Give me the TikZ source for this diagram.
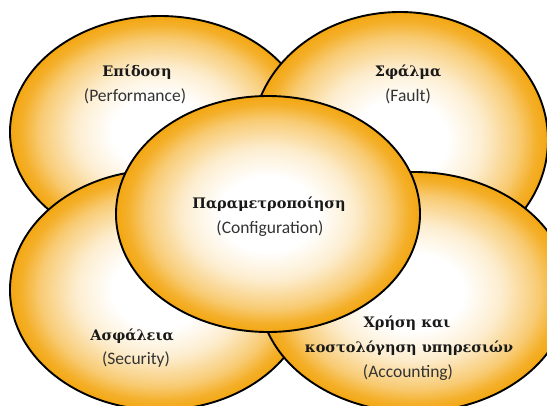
\documentclass[tikz,border=0pt]{standalone}
\usepackage{fontspec}
\setmainfont{Carlito}
\newfontfamily\grk{DejaVu Serif}
\usetikzlibrary{shadings}
\definecolor{myorange}{RGB}{243,166,16}
\colorlet{glowA}{myorange!20!white}
\colorlet{glowB}{myorange!58!white}
\colorlet{glowC}{myorange!88!white}
\pgfdeclareradialshading{glow}{\pgfpointorigin}{color(0bp)=(white); color(8bp)=(white); color(14bp)=(glowA); color(20bp)=(glowB); color(23bp)=(glowC); color(25bp)=(myorange); color(50bp)=(myorange)}
\begin{document}
\begin{tikzpicture}[x=1pt,y=-1pt,
  petal/.style={draw=black, line width=1.9pt, shading=glow},
  gtitle/.style={anchor=base, text=black!90, font=\grk\bfseries\fontsize{14.5}{17}\selectfont},
  etitle/.style={anchor=base, text=black!80, font=\fontsize{17.5}{20}\selectfont}]
\useasboundingbox (0,0) rectangle (547,405);
\fill[white] (0,0) rectangle (547,405);
% petals
\path[petal] (160,132) ellipse [x radius=150, y radius=116];
\path[petal] (400,140) ellipse [x radius=148, y radius=128];
\path[petal] (160,290) ellipse [x radius=150, y radius=120];
\path[petal] (414,292) ellipse [x radius=155, y radius=120];
\path[petal] (268,214) ellipse [x radius=152, y radius=118];
% labels
\node[gtitle] (perfg) at (137,76) {Επίδοση};
\node[etitle] (perfe) at (135,101) {(Performance)};
\node[gtitle] (faultg) at (408,76) {Σφάλμα};
\node[etitle] (faulte) at (408,101) {(Fault)};
\node[gtitle] (confg) at (269,208) {Παραμετροποίηση};
\node[etitle] (confe) at (270,233) {(Configuration)};
\node[gtitle] (secg) at (132,340) {Ασφάλεια};
\node[etitle] (sece) at (136,364) {(Security)};
\node[gtitle] (accg1) at (407,327) {Χρήση και};
\node[gtitle] (accg2) at (409,352) {κοστολόγηση υπηρεσιών};
\node[etitle] (acce) at (408,377) {(Accounting)};
\end{tikzpicture}
\end{document}
